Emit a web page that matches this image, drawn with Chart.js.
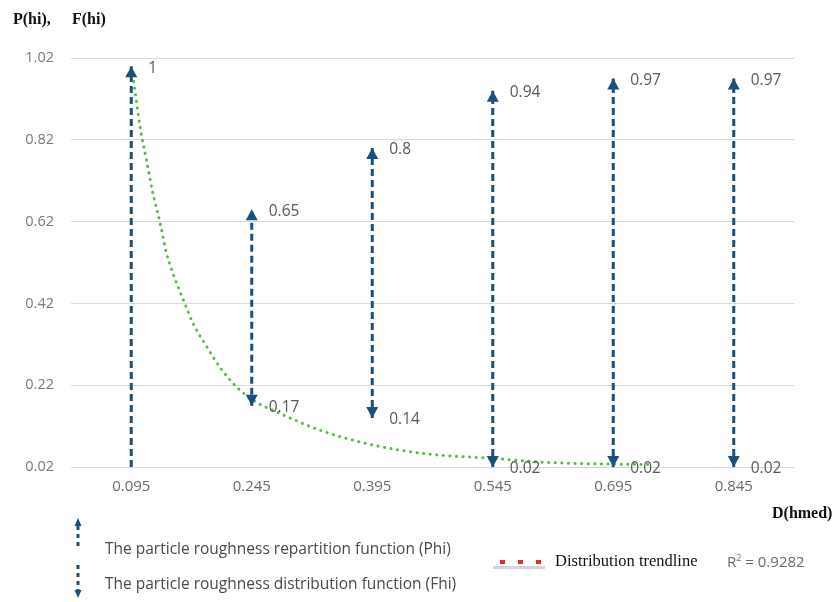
<!DOCTYPE html>
<html>
<head>
<meta charset="utf-8">
<style>
  body { margin: 0; background: #fff; }
  #wrap { position: relative; width: 838px; height: 602px; }
  .ttl { position: absolute; font-family: "Liberation Serif", "DejaVu Serif", serif; font-weight: bold; font-size: 16px; color: #111; white-space: nowrap; }
  .lg { position: absolute; font-family: "Open Sans", sans-serif; font-size: 15.5px; line-height: 22px; color: #4a4a4a; white-space: nowrap; }
  .lgs { position: absolute; font-family: "Liberation Serif", serif; font-size: 16.5px; line-height: 22px; color: #111; white-space: nowrap; }
</style>
</head>
<body>
<div id="wrap">
  <canvas id="roughChart" width="838" height="602"></canvas>
  <div class="ttl" style="left:13px; top:10px;">P(hi),</div>
  <div class="ttl" style="left:72px; top:10px;">F(hi)</div>
  <div class="ttl" style="left:772px; top:504px;">D(hmed)</div>
  <div class="lg" style="left:105px; top:537px;">The particle roughness repartition function (Phi)</div>
  <div class="lg" style="left:105px; top:572px;">The particle roughness distribution function (Fhi)</div>
  <div style="position:absolute; left:493px; top:566px; width:52px; height:3px; background:#d4d4d4;"></div>
  <div class="lgs" style="left:555px; top:550px;">Distribution trendline</div>
  <div class="lg" style="left:727px; top:550px; font-size:15px; color:#6a6a6a;">R<sup style="font-size:9px; vertical-align:6px; line-height:0;">2</sup> = 0.9282</div>
</div>

<script src="https://cdn.jsdelivr.net/npm/chart.js"></script>
<script>

// diameter classes on the x axis
var diameters = [0.095, 0.245, 0.395, 0.545, 0.695, 0.845];
// repartition function (top of each arrow)
var phiValues = [1, 0.65, 0.8, 0.94, 0.97, 0.97];
// distribution function (bottom of each arrow)
var fhiValues = [0.02, 0.17, 0.14, 0.02, 0.02, 0.02];
var fhiLabels = [null, '0.17', '0.14', '0.02', '0.02', '0.02'];
var phiLabels = ['1', '0.65', '0.8', '0.94', '0.97', '0.97'];
var yTicks = [0.02, 0.22, 0.42, 0.62, 0.82, 1.02];

// trendline
var trendX = [0.097, 0.106, 0.114, 0.122, 0.131, 0.139, 0.147, 0.160, 0.172, 0.189, 0.205, 0.226, 0.247, 0.280, 0.330, 0.380, 0.430, 0.479, 0.546, 0.604, 0.666, 0.741];
var trendY = [0.978, 0.852, 0.770, 0.689, 0.616, 0.542, 0.493, 0.428, 0.371, 0.314, 0.265, 0.216, 0.183, 0.151, 0.110, 0.081, 0.061, 0.049, 0.041, 0.032, 0.028, 0.026];

var arrowColor = '#1b4f7e';

var datasets = [];
datasets.push({
    label: 'Distribution trendline',
    data: trendX.map(function(x, i) { return { x: x, y: trendY[i] }; }),
    borderColor: '#55bb44',
    borderWidth: 3,
    borderDash: [0.1, 6.5],
    borderCapStyle: 'round',
    pointRadius: 0,
    cubicInterpolationMode: 'monotone',
    fill: false
});
diameters.forEach(function(d, i) {
    datasets.push({
        label: 'arrow' + i,
        data: [{ x: d, y: fhiValues[i] }, { x: d, y: phiValues[i] }],
        borderColor: arrowColor,
        borderWidth: 3,
        borderDash: [7, 4],
        pointRadius: 0,
        fill: false
    });
});

// arrow heads and value labels
var arrowPlugin = {
    id: 'arrowHeads',
    afterDatasetsDraw: function(chart) {
        var ctx = chart.ctx;
        var xs = chart.scales.x, ys = chart.scales.y;
        ctx.save();
        ctx.fillStyle = arrowColor;
        diameters.forEach(function(d, i) {
            var x = xs.getPixelForValue(d);
            var yt = ys.getPixelForValue(phiValues[i]);
            var yb = ys.getPixelForValue(fhiValues[i]);
            ctx.beginPath();
            ctx.moveTo(x, yt);
            ctx.lineTo(x - 6, yt + 11);
            ctx.lineTo(x + 6, yt + 11);
            ctx.closePath();
            ctx.fill();
            if (fhiLabels[i] !== null) {
                ctx.beginPath();
                ctx.moveTo(x, yb);
                ctx.lineTo(x - 6, yb - 11);
                ctx.lineTo(x + 6, yb - 11);
                ctx.closePath();
                ctx.fill();
            }
        });
        ctx.fillStyle = '#595959';
        ctx.font = '15.5px "Open Sans", sans-serif';
        ctx.textBaseline = 'middle';
        ctx.textAlign = 'left';
        diameters.forEach(function(d, i) {
            var x = xs.getPixelForValue(d);
            ctx.fillText(phiLabels[i], x + 17, ys.getPixelForValue(phiValues[i]) + 2);
            if (fhiLabels[i] !== null) {
                ctx.fillText(fhiLabels[i], x + 17, ys.getPixelForValue(fhiValues[i]) + 2);
            }
        });
        ctx.restore();
    }
};

new Chart(document.getElementById('roughChart').getContext('2d'), {
    type: 'line',
    data: { datasets: datasets },
    plugins: [arrowPlugin],
    options: {
        responsive: false,
        animation: false,
        devicePixelRatio: 1,
        layout: { padding: { top: 58, right: 44, left: 0, bottom: 0 } },
        plugins: { legend: { display: false }, tooltip: { enabled: false } },
        scales: {
            x: {
                type: 'linear',
                min: 0.02,
                max: 0.92,
                afterBuildTicks: function(scale) {
                    scale.ticks = diameters.map(function(v) { return { value: v }; });
                },
                afterFit: function(scale) { scale.height = 135; },
                grid: { display: false, drawTicks: false },
                border: { display: false },
                ticks: {
                    padding: 11,
                    color: '#6a6a6a',
                    font: { family: 'Open Sans', size: 15 },
                    callback: function(v) { return v.toFixed(3); }
                }
            },
            y: {
                type: 'linear',
                min: 0.02,
                max: 1.02,
                afterBuildTicks: function(scale) {
                    scale.ticks = yTicks.map(function(v) { return { value: v }; });
                },
                afterFit: function(scale) { scale.width = 71; },
                grid: { color: '#d9d9d9', lineWidth: 1, drawTicks: false },
                border: { display: false },
                ticks: {
                    padding: 17,
                    color: '#7a7a7a',
                    font: { family: 'Open Sans', size: 14.5 },
                    callback: function(v) { return v.toFixed(2); }
                }
            }
        }
    }
});

// legend icon for the arrows and dotted trendline marker
(function() {
    var c = document.createElement('canvas');
    c.width = 838; c.height = 602;
    c.style.position = 'absolute'; c.style.left = '0'; c.style.top = '0';
    document.getElementById('wrap').appendChild(c);
    var g = c.getContext('2d');
    g.strokeStyle = arrowColor; g.fillStyle = arrowColor; g.lineWidth = 3;
    g.setLineDash([4, 4]);
    g.beginPath(); g.moveTo(78, 526); g.lineTo(78, 550); g.stroke();
    g.beginPath(); g.moveTo(78, 565); g.lineTo(78, 590); g.stroke();
    g.beginPath(); g.moveTo(78, 518); g.lineTo(74.5, 526); g.lineTo(81.5, 526); g.closePath(); g.fill();
    g.beginPath(); g.moveTo(78, 598); g.lineTo(74.5, 590); g.lineTo(81.5, 590); g.closePath(); g.fill();
    g.setLineDash([5, 13]);
    g.strokeStyle = '#e0302a'; g.lineWidth = 4;
    g.beginPath(); g.moveTo(500, 562); g.lineTo(545, 562); g.stroke();
})();
</script>
</body>
</html>
